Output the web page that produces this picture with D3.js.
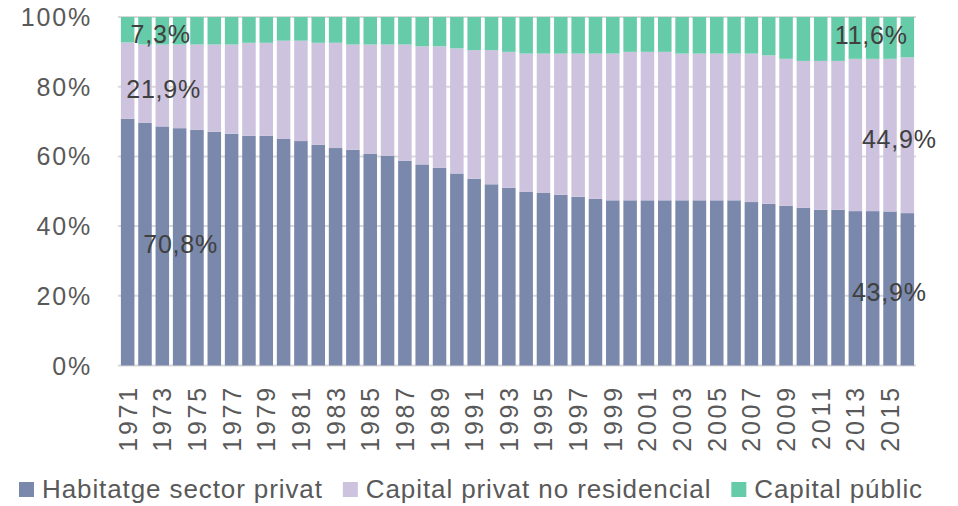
<!DOCTYPE html>
<html>
<head>
<meta charset="utf-8">
<script src="https://cdn.jsdelivr.net/npm/d3@7"></script>
<style>
  body { margin: 0; background: #fff; }
  svg text { font-family: "Liberation Sans", Arial, sans-serif; }
</style>
</head>
<body>
<div id="chart"></div>
<script>
var years = [1971, 1972, 1973, 1974, 1975, 1976, 1977, 1978, 1979, 1980,
    1981, 1982, 1983, 1984, 1985, 1986, 1987, 1988, 1989, 1990,
    1991, 1992, 1993, 1994, 1995, 1996, 1997, 1998, 1999, 2000,
    2001, 2002, 2003, 2004, 2005, 2006, 2007, 2008, 2009, 2010,
    2011, 2012, 2013, 2014, 2015, 2016];

// habitatge sector privat (%)
var habitatge = [70.8, 69.7, 68.6, 68.1, 67.6, 67.1, 66.5, 65.9, 65.9, 65.0,
    64.4, 63.3, 62.4, 61.9, 60.7, 60.2, 58.7, 57.7, 56.7, 55.1,
    53.6, 52.0, 51.0, 49.9, 49.5, 49.0, 48.4, 47.8, 47.4, 47.4,
    47.4, 47.4, 47.4, 47.4, 47.4, 47.4, 46.9, 46.4, 45.8, 45.3,
    44.7, 44.7, 44.3, 44.3, 44.2, 43.9];

// capital privat no residencial (%)
var privat = [21.9, 22.4, 23.5, 24.0, 24.5, 25.0, 25.6, 26.7, 26.7, 28.2,
    28.8, 29.3, 30.2, 30.2, 31.4, 31.9, 33.4, 33.9, 34.9, 35.9,
    36.9, 38.5, 39.0, 39.6, 40.0, 40.5, 41.1, 41.7, 42.1, 42.6,
    42.6, 42.6, 42.1, 42.1, 42.1, 42.1, 42.6, 42.6, 42.2, 42.1,
    42.7, 42.7, 43.7, 43.7, 43.8, 44.9];

// capital public (%)
var publicCap = [7.3, 7.9, 7.9, 7.9, 7.9, 7.9, 7.9, 7.4, 7.4, 6.8,
    6.8, 7.4, 7.4, 7.9, 7.9, 7.9, 7.9, 8.4, 8.4, 9.0,
    9.5, 9.5, 10.0, 10.5, 10.5, 10.5, 10.5, 10.5, 10.5, 10.0,
    10.0, 10.0, 10.5, 10.5, 10.5, 10.5, 10.5, 11.0, 12.0, 12.6,
    12.6, 12.6, 12.0, 12.0, 12.0, 11.6];

var seriesKeys = ["hab", "priv", "pub"];
var seriesNames = ["Habitatge sector privat", "Capital privat no residencial", "Capital públic"];
var seriesColors = ["#7a88ab", "#cdc3de", "#66cba8"];
var yTicks = [0, 0.2, 0.4, 0.6, 0.8, 1];

var rows = years.map(function(y, i) {
    return { year: y, hab: habitatge[i], priv: privat[i], pub: publicCap[i] };
});

var width = 958, height = 506;
var margin = { top: 17, right: 42, bottom: 140.5, left: 119 };

var svg = d3.select("#chart")
    .append("svg")
    .attr("width", width)
    .attr("height", height);

var x = d3.scaleBand()
    .domain(years)
    .range([margin.left, width - margin.right])
    .paddingInner(0.22)
    .paddingOuter(0.11);

var y = d3.scaleLinear()
    .domain([0, 1])
    .range([height - margin.bottom, margin.top]);

var stack = d3.stack().keys(seriesKeys).offset(d3.stackOffsetExpand);
var stacked = stack(rows);

// gridlines
svg.append("g")
    .attr("class", "grid")
    .selectAll("line")
    .data(yTicks)
    .enter().append("line")
    .attr("x1", margin.left - 1)
    .attr("x2", width - margin.right)
    .attr("y1", function(d) { return y(d); })
    .attr("y2", function(d) { return y(d); })
    .attr("stroke", "#d9d9d9")
    .attr("stroke-width", 2);

// y labels
svg.append("g")
    .selectAll("text")
    .data(yTicks)
    .enter().append("text")
    .attr("x", 92)
    .attr("y", function(d) { return y(d); })
    .attr("dy", "0.36em")
    .attr("text-anchor", "end")
    .attr("fill", "#595959")
    .style("font-size", "25px")
    .style("letter-spacing", "1.8px")
    .text(function(d) { return Math.round(d * 100) + "%"; });

// bars
svg.append("g")
    .selectAll("g")
    .data(stacked)
    .enter().append("g")
    .attr("fill", function(d, i) { return seriesColors[i]; })
    .selectAll("rect")
    .data(function(d) { return d; })
    .enter().append("rect")
    .attr("x", function(d) { return x(d.data.year); })
    .attr("width", x.bandwidth())
    .attr("y", function(d) { return y(d[1]); })
    .attr("height", function(d) { return y(d[0]) - y(d[1]); });

// x labels, every other year
svg.append("g")
    .selectAll("text")
    .data(years.filter(function(d, i) { return i % 2 === 0; }))
    .enter().append("text")
    .attr("transform", function(d) {
        return "translate(" + (x(d) + x.bandwidth() / 2) + "," + 385 + ") rotate(-90)";
    })
    .attr("dy", "0.36em")
    .attr("text-anchor", "end")
    .attr("fill", "#595959")
    .style("font-size", "25px")
    .style("letter-spacing", "2.8px")
    .text(function(d) { return d; });

// data labels on first and last bars
var labelFmt = function(v) { return String(v.toFixed(1)).replace(".", ",") + "%"; };
var first = 0, last = years.length - 1;
var labelDx = [[53, 36, 33], [-18, -8, -36]];
var labelDy = [[2, 8, 4], [3, 4, -2]];
[first, last].forEach(function(idx, side) {
    stacked.forEach(function(s, k) {
        var seg = s[idx];
        var raw = [habitatge, privat, publicCap][k][idx];
        svg.append("text")
            .attr("x", x(years[idx]) + x.bandwidth() / 2 + labelDx[side][k])
            .attr("y", y((seg[0] + seg[1]) / 2) + labelDy[side][k])
            .attr("dy", "0.36em")
            .attr("text-anchor", "middle")
            .attr("fill", "#404040")
            .style("font-size", "25px")
            .style("letter-spacing", "0.8px")
            .text(labelFmt(raw));
    });
});

// legend
var legend = svg.append("g").attr("class", "legend");
var lx = 19;
seriesNames.forEach(function(name, i) {
    legend.append("rect")
        .attr("x", lx)
        .attr("y", 482)
        .attr("width", 15)
        .attr("height", 15)
        .attr("fill", seriesColors[i]);
    var t = legend.append("text")
        .attr("x", lx + 23)
        .attr("y", 498)
        .attr("fill", "#595959")
        .style("font-size", "26px")
        .style("letter-spacing", "0.9px")
        .text(name);
    lx += 23 + t.node().getComputedTextLength() + 20;
});
</script>
</body>
</html>
